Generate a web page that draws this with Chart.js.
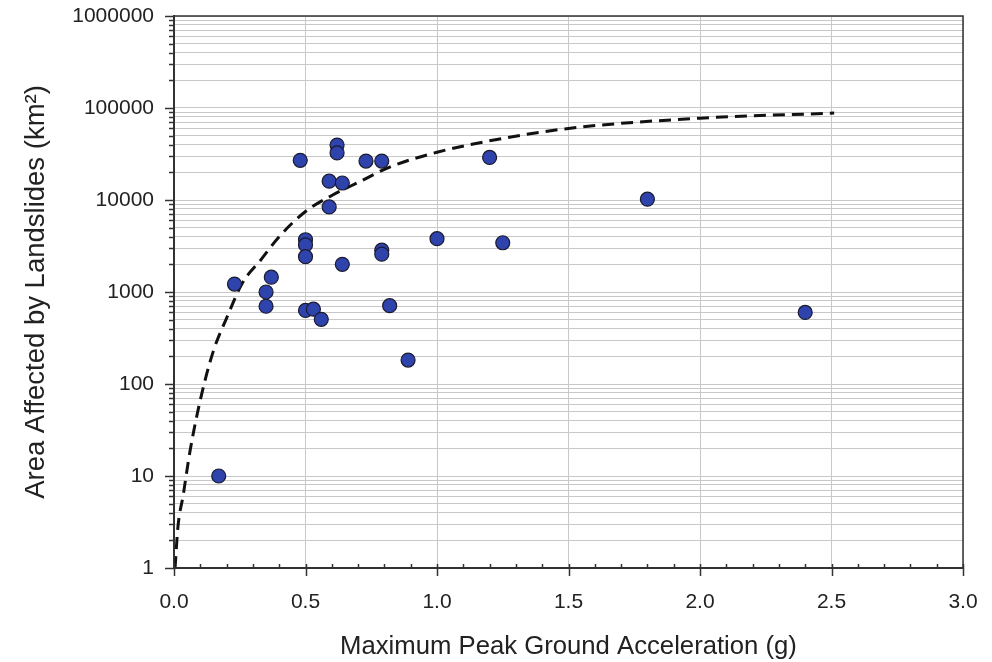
<!DOCTYPE html>
<html>
<head>
<meta charset="utf-8">
<title>Landslide area vs PGA</title>
<script src="https://cdn.jsdelivr.net/npm/chart.js@4.4.1/dist/chart.umd.min.js"></script>
<style>
  html, body { margin: 0; padding: 0; background: #fff; }
  canvas { display: block; }
</style>
</head>
<body>
<canvas id="chart" width="992" height="662"></canvas>
<script>
// Observed earthquakes: maximum PGA (g) and area affected by landslides (km2)
const pgaValues = [0.17, 0.23, 0.35, 0.35, 0.37, 0.48, 0.50, 0.50, 0.50, 0.50,
                   0.53, 0.56, 0.59, 0.59, 0.62, 0.62, 0.64, 0.64, 0.73, 0.79,
                   0.79, 0.79, 0.82, 0.89, 1.00, 1.20, 1.25, 1.80, 2.40];
const areaValues = [10, 1220, 1000, 700, 1450, 27000, 3700, 3250, 2420, 630,
                    650, 505, 16000, 8400, 39500, 32500, 15300, 2000, 26500, 26500,
                    2850, 2580, 710, 182, 3800, 29000, 3430, 10200, 600];

// Dashed envelope curve
const curveX = [0.004, 0.015, 0.035, 0.06, 0.10, 0.15, 0.20, 0.26, 0.33, 0.40,
                0.50, 0.60, 0.70, 0.82, 1.00, 1.20, 1.50, 2.00, 2.51];
const curveY = [1, 2.8, 6.2, 18, 67, 230, 520, 1250, 2230, 4000,
                7500, 11200, 15500, 22800, 33000, 44000, 60000, 77500, 88000];

// Axis ticks
const yMajorTicks = [1, 10, 100, 1000, 10000, 100000, 1000000];
const yMinorSteps = [2, 3, 4, 5, 6, 7, 8, 9];
const xMajorTicks = [0, 0.5, 1.0, 1.5, 2.0, 2.5, 3.0];
const xMinorTicks = [0.1, 0.2, 0.3, 0.4, 0.6, 0.7, 0.8, 0.9, 1.1, 1.2, 1.3, 1.4,
                     1.6, 1.7, 1.8, 1.9, 2.1, 2.2, 2.3, 2.4, 2.6, 2.7, 2.8, 2.9];

const yTickValues = [];
yMajorTicks.forEach((m, i) => {
    yTickValues.push(m);
    if (i < yMajorTicks.length - 1) yMinorSteps.forEach(s => yTickValues.push(m * s));
});

const axisColor = '#333';
const gridColor = '#c8c8c8';
const textColor = '#222';

Chart.defaults.font.family = "'Liberation Sans', Arial, Helvetica, sans-serif";

// drop the label overflow padding so the layout padding alone sets the plot box
function noEdgePadding(scale) {
    scale.paddingTop = 0;
    scale.paddingBottom = 0;
    scale.paddingLeft = 0;
    scale.paddingRight = 0;
}

// box around the plot + tick marks like the original figure
const frameAndTicks = {
    id: 'frameAndTicks',
    afterDraw(chart) {
        const { ctx, chartArea: a, scales: { x, y } } = chart;
        ctx.save();
        ctx.strokeStyle = axisColor;
        ctx.lineWidth = 1.5;
        ctx.strokeRect(a.left, a.top, a.right - a.left, a.bottom - a.top);

        ctx.beginPath();
        yTickValues.forEach(v => {
            const py = Math.round(y.getPixelForValue(v)) + 0.5;
            const len = yMajorTicks.includes(v) ? 9 : 5;
            ctx.moveTo(a.left - len, py);
            ctx.lineTo(a.left, py);
        });
        xMajorTicks.forEach(v => {
            const px = Math.round(x.getPixelForValue(v)) + 0.5;
            ctx.moveTo(px, a.bottom - 4);
            ctx.lineTo(px, a.bottom + 8);
        });
        xMinorTicks.forEach(v => {
            const px = Math.round(x.getPixelForValue(v)) + 0.5;
            ctx.moveTo(px, a.bottom - 4);
            ctx.lineTo(px, a.bottom);
        });
        ctx.stroke();
        ctx.restore();
    }
};

const ctx = document.getElementById('chart').getContext('2d');
new Chart(ctx, {
    type: 'scatter',
    data: {
        datasets: [{
            label: 'Earthquakes',
            data: pgaValues.map((v, i) => ({ x: v, y: areaValues[i] })),
            pointRadius: 7,
            pointHoverRadius: 7,
            backgroundColor: '#2f43ad',
            borderColor: '#1b1b30',
            borderWidth: 1.2,
            order: 0
        }, {
            label: 'Upper bound',
            type: 'line',
            data: curveX.map((v, i) => ({ x: v, y: curveY[i] })),
            borderColor: '#111',
            borderWidth: 3,
            borderDash: [12, 7],
            pointRadius: 0,
            fill: false,
            cubicInterpolationMode: 'monotone',
            order: 1
        }]
    },
    options: {
        responsive: false,
        animation: false,
        layout: { padding: { left: 0, right: 29, top: 16, bottom: 0 } },
        plugins: {
            legend: { display: false },
            tooltip: { enabled: false }
        },
        scales: {
            x: {
                type: 'linear',
                min: 0,
                max: 3,
                afterFit: (scale) => { scale.height = 94; noEdgePadding(scale); },
                ticks: {
                    stepSize: 0.5,
                    callback: (v) => Number(v).toFixed(1),
                    padding: 22,
                    color: textColor,
                    font: { size: 21 }
                },
                grid: { color: gridColor, lineWidth: 1, drawTicks: false },
                border: { color: axisColor, width: 2 },
                title: {
                    display: true,
                    text: 'Maximum Peak Ground Acceleration (g)',
                    color: textColor,
                    font: { size: 25.7 },
                    padding: { top: 12, bottom: 0 }
                }
            },
            y: {
                type: 'logarithmic',
                min: 1,
                max: 1000000,
                afterFit: (scale) => { scale.width = 174; noEdgePadding(scale); },
                afterBuildTicks: (scale) => {
                    scale.ticks = yTickValues.map(v => ({ value: v }));
                },
                ticks: {
                    autoSkip: false,
                    callback: (v) => yMajorTicks.includes(v) ? String(v) : '',
                    padding: 20,
                    color: textColor,
                    font: { size: 21 }
                },
                grid: { color: gridColor, lineWidth: 1, drawTicks: false },
                border: { color: axisColor, width: 2 },
                title: {
                    display: true,
                    text: 'Area Affected by Landslides (km²)',
                    color: textColor,
                    font: { size: 27.5 },
                    padding: { top: 20, bottom: 0 }
                }
            }
        }
    },
    plugins: [frameAndTicks]
});
</script>
</body>
</html>
